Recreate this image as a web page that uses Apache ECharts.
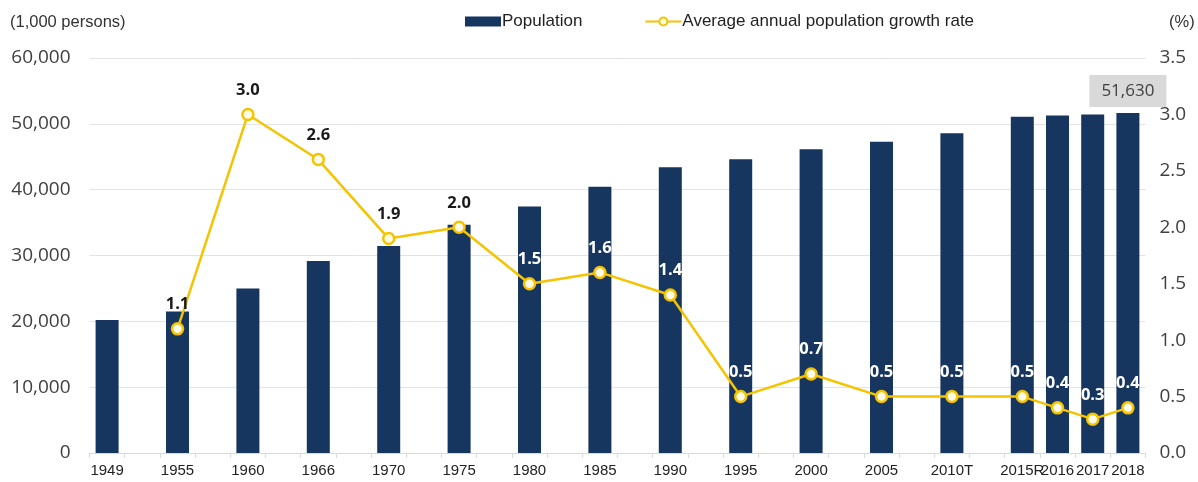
<!DOCTYPE html>
<html style="height: 100%">
<head>
    <meta charset="utf-8">
    <script src="https://cdn.jsdelivr.net/npm/echarts@6/dist/echarts.min.js"></script>
</head>
<body style="height: 100%; margin: 0; background: #fff">
<div id="container" style="width: 1198px; height: 482px"></div>
<script type="text/javascript">
    var years = ['1949', '1955', '1960', '1966', '1970', '1975', '1980', '1985', '1990',
        '1995', '2000', '2005', '2010T', '2015R', '2016', '2017', '2018'];
    var population = [20189, 21502, 24989, 29160, 31435, 34679, 37436, 40448, 43411,
        44609, 46136, 47279, 48580, 51069, 51270, 51423, 51630];
    var growthRate = [null, 1.1, 3.0, 2.6, 1.9, 2.0, 1.5, 1.6, 1.4,
        0.5, 0.7, 0.5, 0.5, 0.5, 0.4, 0.3, 0.4];
    var leftTicks = [0, 60000, 10000];
    var rightTicks = [0, 3.5, 0.5];

    // census years take two slots, the annual ones (2015R on) one slot
    var fiveYearCount = 13;
    var cats = [], bars = [], rates = [];
    for (var i = 0; i < years.length; i++) {
        cats.push(years[i]);
        var bar = {value: population[i]};
        if (i === years.length - 1) {
            bar.label = {
                show: true, position: 'top', distance: 6,
                formatter: function (p) { return p.value.toLocaleString('en-US'); },
                backgroundColor: '#d9d9d9', padding: [8, 12, 7, 12],
                color: '#404040', fontSize: 17, fontFamily: 'Open Sans'
            };
        }
        bars.push(bar);
        rates.push({
            value: growthRate[i],
            label: {color: (i >= 1 && i <= 5) ? '#1a1a1a' : '#ffffff'}
        });
        if (i < fiveYearCount) {
            cats.push('');
            bars.push(null);
            rates.push(null);
        }
    }

    var myChart = echarts.init(document.getElementById('container'));
    var option = {
        animation: false,
        legend: {
            top: 8, left: 460, itemGap: 62, itemWidth: 36, itemHeight: 10,
            textStyle: {fontSize: 17, color: '#222', fontFamily: 'Liberation Sans', padding: [0, 0, 0, -4]},
            data: [
                {name: 'Population', icon: 'rect'},
                {name: 'Average annual population growth rate'}
            ]
        },
        graphic: [
            {type: 'text', left: 10, top: 14, style: {text: '(1,000 persons)', fontSize: 16.5, fill: '#333', fontFamily: 'Liberation Sans'}},
            {type: 'text', left: 1169, top: 14, style: {text: '(%)', fontSize: 16.5, fill: '#333', fontFamily: 'Liberation Sans'}}
        ],
        grid: {left: 89.5, right: 52.5, top: 58, bottom: 29},
        xAxis: {
            type: 'category', data: cats,
            axisLine: {lineStyle: {color: '#d9d9d9'}},
            axisTick: {show: true, interval: 0, length: 5, lineStyle: {color: '#d9d9d9'}},
            axisLabel: {interval: 0, margin: 10, fontSize: 15, color: '#222', fontFamily: 'Liberation Sans'}
        },
        yAxis: [
            {
                type: 'value', min: leftTicks[0], max: leftTicks[1], interval: leftTicks[2],
                axisLine: {show: false}, axisTick: {show: false},
                splitLine: {lineStyle: {color: '#e3e3e3'}},
                axisLabel: {
                    margin: 19, fontSize: 19, color: '#404040', fontFamily: 'Open Sans',
                    formatter: function (v) { return v.toLocaleString('en-US'); }
                }
            },
            {
                type: 'value', min: rightTicks[0], max: rightTicks[1], interval: rightTicks[2],
                axisLine: {show: false}, axisTick: {show: false}, splitLine: {show: false},
                axisLabel: {
                    margin: 14, fontSize: 19, color: '#404040', fontFamily: 'Open Sans',
                    formatter: function (v) { return v.toFixed(1); }
                }
            }
        ],
        series: [
            {
                name: 'Population', type: 'bar', data: bars, barWidth: 23,
                itemStyle: {color: '#17365f'}
            },
            {
                name: 'Average annual population growth rate', type: 'line', yAxisIndex: 1,
                data: rates, connectNulls: true,
                symbol: 'circle', symbolSize: 11, showAllSymbol: true,
                lineStyle: {color: '#f5c300', width: 2.5},
                itemStyle: {color: '#fffbe6', borderColor: '#f5c300', borderWidth: 2.5},
                label: {
                    show: true, position: 'top', distance: 9,
                    fontSize: 16.5, fontWeight: 'bold', fontFamily: 'Open Sans',
                    formatter: function (p) { return p.value.toFixed(1); }
                },
                z: 3
            }
        ]
    };
    myChart.setOption(option);
</script>
</body>
</html>
